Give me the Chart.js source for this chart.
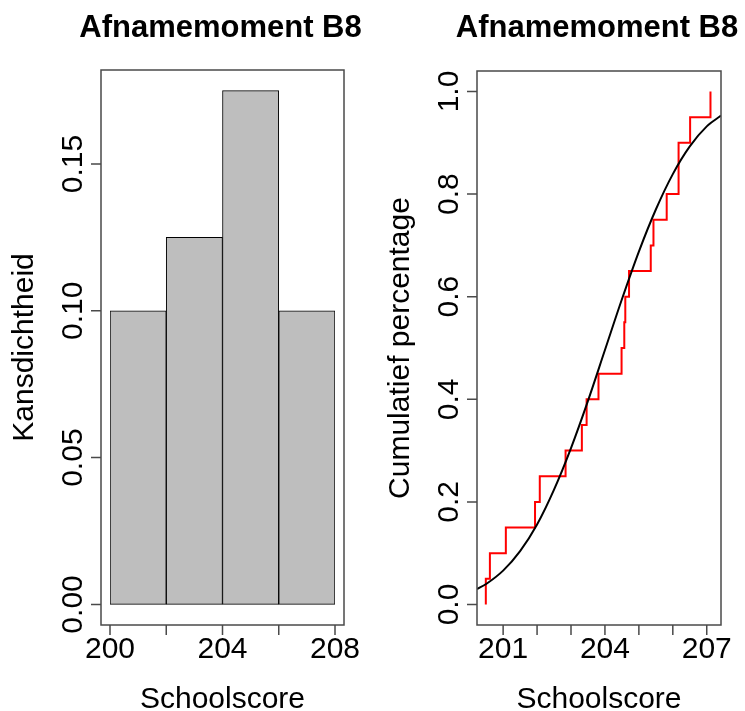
<!DOCTYPE html>
<html>
<head>
<meta charset="utf-8">
<script src="https://cdn.jsdelivr.net/npm/chart.js@4.4.0/dist/chart.umd.min.js"></script>
<style>
  body { margin: 0; background: #fff; }
  #wrap { position: relative; width: 745px; height: 711px; }
  canvas { position: absolute; top: 0; }
</style>
</head>
<body>
<div id="wrap">
  <canvas id="histChart" width="372" height="711" style="left:0"></canvas>
  <canvas id="ecdfChart" width="373" height="711" style="left:372px"></canvas>
</div>
<script>
// histogram of Schoolscore, bins of width 2
const binLabels = ['200-202', '202-204', '204-206', '206-208'];
const binDensity = [0.10, 0.125, 0.175, 0.10];
const histXTicks = [200, 202, 204, 206, 208];
const histXLabels = ['200', '', '204', '', '208'];
const histYTicks = [0, 0.05, 0.10, 0.15];
const histYLabels = ['0.00', '0.05', '0.10', '0.15'];

// empirical cdf: sorted scores, one step each
const ecdfScores = [200.49, 200.61, 201.08, 201.94, 202.08, 202.84, 203.32, 203.46, 203.81, 204.49,
                    204.57, 204.60, 204.71, 205.35, 205.43, 205.82, 206.17, 206.17, 206.51, 207.11];
const ecdfLevels = [0.05, 0.10, 0.15, 0.20, 0.25, 0.30, 0.35, 0.40, 0.45, 0.50,
                    0.55, 0.60, 0.65, 0.70, 0.75, 0.80, 0.85, 0.90, 0.95, 1.00];
// fitted normal cdf (black curve)
const normX = [200.23, 200.5, 201, 201.5, 202, 202.5, 203, 203.5, 204, 204.5, 205, 205.5, 206, 206.5, 207, 207.42];
const normY = [0.030, 0.040, 0.066, 0.104, 0.156, 0.224, 0.305, 0.397, 0.496, 0.595, 0.688, 0.770, 0.839, 0.893, 0.932, 0.953];
const ecdfXTicks = [201, 202, 203, 204, 205, 206, 207];
const ecdfXLabels = ['201', '', '', '204', '', '', '207'];
const ecdfYTicks = [0, 0.2, 0.4, 0.6, 0.8, 1.0];
const ecdfYLabels = ['0.0', '0.2', '0.4', '0.6', '0.8', '1.0'];

const FONT = '"Liberation Sans", Arial, sans-serif';

// base-R style frame, axes and titles
const rAxes = {
  id: 'rAxes',
  afterDraw(chart, args, o) {
    const ctx = chart.ctx;
    const xs = chart.scales[o.xScale];
    const ys = chart.scales.y;
    const left = xs.getPixelForValue(o.xLim[0]);
    const right = xs.getPixelForValue(o.xLim[1]);
    const top = ys.getPixelForValue(o.yLim[1]);
    const bottom = ys.getPixelForValue(o.yLim[0]);
    ctx.save();
    ctx.strokeStyle = '#4a4a4a';
    ctx.lineWidth = 1.5;
    ctx.strokeRect(left, top, right - left, bottom - top);

    ctx.beginPath();
    o.xTicks.forEach(v => {
      const px = xs.getPixelForValue(v);
      ctx.moveTo(px, bottom);
      ctx.lineTo(px, bottom + 10);
    });
    o.yTicks.forEach(v => {
      const py = ys.getPixelForValue(v);
      ctx.moveTo(left, py);
      ctx.lineTo(left - 10, py);
    });
    ctx.stroke();

    ctx.fillStyle = '#000';
    ctx.font = '30px ' + FONT;
    ctx.textAlign = 'center';
    ctx.textBaseline = 'alphabetic';
    o.xTicks.forEach((v, i) => {
      if (o.xLabels[i]) ctx.fillText(o.xLabels[i], xs.getPixelForValue(v), bottom + 33);
    });
    ctx.fillText(o.xTitle, (left + right) / 2, bottom + 83);

    o.yTicks.forEach((v, i) => {
      ctx.save();
      ctx.translate(left - 19, ys.getPixelForValue(v));
      ctx.rotate(-Math.PI / 2);
      ctx.fillText(o.yLabels[i], 0, 0);
      ctx.restore();
    });
    ctx.save();
    ctx.translate(left - 68, (top + bottom) / 2);
    ctx.rotate(-Math.PI / 2);
    ctx.fillText(o.yTitle, 0, 0);
    ctx.restore();

    ctx.font = 'bold 31px ' + FONT;
    ctx.fillText(o.title, (left + right) / 2 - 2, 37);
    ctx.restore();
  }
};

new Chart(document.getElementById('histChart'), {
  type: 'bar',
  data: {
    labels: binLabels,
    datasets: [{
      data: binDensity,
      backgroundColor: '#bebebe',
      borderColor: '#000',
      borderWidth: 1,
      borderSkipped: false,
      barPercentage: 1,
      categoryPercentage: 1
    }]
  },
  options: {
    responsive: false,
    animation: false,
    layout: { padding: { left: 110, right: 37, top: 70, bottom: 86 } },
    scales: {
      x: { display: false },
      xv: { type: 'linear', display: false, offset: false, min: 200, max: 208 },
      y: { display: false, min: -0.007, max: 0.182 }
    },
    plugins: {
      legend: { display: false },
      tooltip: { enabled: false },
      rAxes: {
        xScale: 'xv', xLim: [199.68, 208.32], yLim: [-0.007, 0.182],
        xTicks: histXTicks, xLabels: histXLabels,
        yTicks: histYTicks, yLabels: histYLabels,
        xTitle: 'Schoolscore', yTitle: 'Kansdichtheid', title: 'Afnamemoment B8'
      }
    }
  },
  plugins: [rAxes]
});

const ecdfPoints = [{ x: ecdfScores[0], y: 0 }].concat(
  ecdfScores.map((x, i) => ({ x: x, y: ecdfLevels[i] })));
const normPoints = normX.map((x, i) => ({ x: x, y: normY[i] }));

new Chart(document.getElementById('ecdfChart'), {
  type: 'scatter',
  data: {
    datasets: [{
      data: normPoints,
      showLine: true,
      borderColor: '#000',
      borderWidth: 2,
      pointRadius: 0,
      cubicInterpolationMode: 'monotone'
    }, {
      data: ecdfPoints,
      showLine: true,
      stepped: 'before',
      borderColor: '#ff0000',
      borderWidth: 2,
      pointRadius: 0
    }]
  },
  options: {
    responsive: false,
    animation: false,
    layout: { padding: { left: 105, right: 24, top: 71, bottom: 86 } },
    scales: {
      x: { type: 'linear', display: false, min: 200.23, max: 207.42 },
      y: { type: 'linear', display: false, min: -0.04, max: 1.04 }
    },
    plugins: {
      legend: { display: false },
      tooltip: { enabled: false },
      rAxes: {
        xScale: 'x', xLim: [200.23, 207.42], yLim: [-0.04, 1.04],
        xTicks: ecdfXTicks, xLabels: ecdfXLabels,
        yTicks: ecdfYTicks, yLabels: ecdfYLabels,
        xTitle: 'Schoolscore', yTitle: 'Cumulatief percentage', title: 'Afnamemoment B8'
      }
    }
  },
  plugins: [rAxes]
});
</script>
</body>
</html>
